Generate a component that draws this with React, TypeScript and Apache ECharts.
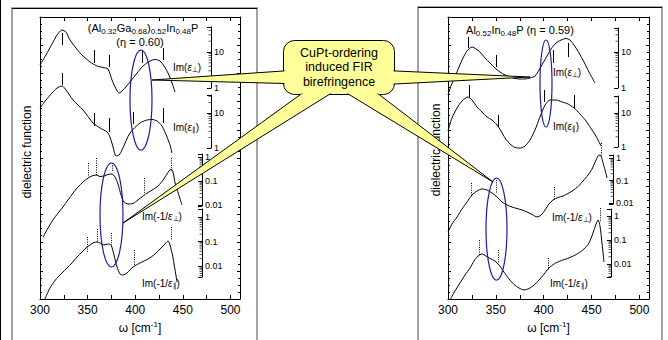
import React, { useEffect, useRef } from "react";
import * as echarts from "echarts";

const FONT = '"Liberation Sans", Arial, Helvetica, sans-serif';

// ---------------- data ----------------
const xTickLabels = [300, 350, 400, 450, 500];
const epsTickLabels = ["1", "10"];
const lossTickLabels = ["0.01", "0.1", "1"];

// Left panel: (Al0.32Ga0.68)0.52In0.48P, eta = 0.60   [omega (cm^-1), value]
const leftEpsPerp = [
  [300, 4.35], [306.3, 8.3], [312.6, 16.7], [317.9, 29.6], [323.1, 40.8], [327.3, 35.9], [331.5, 21.5],
  [342, 9.4], [352.5, 5.3], [359.9, 4.08], [366.2, 3.71], [371.4, 3.37], [375.6, 1.67], [380.9, 0.83],
  [383, 0.73], [387.2, 0.88], [394.5, 1.47], [401.9, 2.61], [408.2, 4.08], [415.5, 5.62], [420.8, 6.19],
  [426, 5.62], [430.2, 4.08], [434.4, 2.61], [438.6, 1.38], [441.8, 0.77],
];
const leftEpsPerpMarks = [[323.1, 33.7, 15.6], [356.7, 11.4, 4.95], [372.5, 8.25, 3.83], [407.1, 11.4, 4.95], [429.2, 12.9, 6.0]];

const leftEpsPar = [
  [300, 13.9], [306.3, 23.5], [312.6, 37.3], [317.9, 51.8], [323.1, 59.1], [327.3, 45.4], [334.7, 23.5],
  [345.2, 12.2], [355.7, 5.18], [363, 3.73], [370.4, 2.87], [373.5, 2.06], [376.7, 1.07], [379.8, 0.59],
  [383, 0.63], [386.1, 0.88], [394.5, 2.68], [405, 5.18], [412.4, 6.31], [417.6, 6.52], [422.9, 5.9],
  [428.1, 4.25], [433.4, 2.06], [436.5, 1.22], [438.6, 0.72],
];
const leftEpsParMarks = [[323.1, 139, 63.1], [356.7, 10, 4.25], [372.5, 7.2, 2.87], [397.7, 10.7, 4.85], [429.2, 13.9, 5.18]];

const leftLossPerp = [
  [303.2, 4.6e-4], [308.4, 1.1e-3], [313.7, 2.4e-3], [318.9, 4.6e-3], [324.2, 8.3e-3], [329.4, 0.0162],
  [334.7, 0.0316], [339.9, 0.0562], [345.2, 0.0908], [350.4, 0.133], [354.6, 0.162], [358.8, 0.178],
  [363, 0.154], [367.2, 0.162], [371.4, 0.187], [375.6, 0.196], [378.8, 0.147], [381.9, 0.075],
  [385.1, 0.0261], [388.2, 0.0133], [392.4, 0.011], [397.7, 0.0116], [402.9, 0.0162], [408.2, 0.0237],
  [413.4, 0.0332], [418.7, 0.0442], [423.9, 0.0619], [429.2, 0.11], [433.4, 0.196], [437.6, 0.316],
  [439.7, 0.237], [441.8, 0.083], [445.4, 0.029], [449.1, 0.01],
];
const leftLossPerpMarks = [[350.4, 0.562, 0.147], [358.8, 0.909, 0.178], [375.6, 0.562, 0.237], [409.2, 0.133, 0.0287], [437.6, 0.909, 0.237]];

const leftLossPar = [
  [305.2, 4.5e-4], [309.4, 1.05e-3], [313.7, 2.0e-3], [318.9, 3.56e-3], [323.1, 5.18e-3], [328.4, 8.3e-3],
  [333.6, 0.0133], [338.9, 0.0233], [344.1, 0.0373], [348.3, 0.0543], [352.5, 0.072], [356.7, 0.091],
  [359.9, 0.0955], [363, 0.0869], [367.2, 0.072], [371.4, 0.0791], [374.6, 0.072], [377.7, 0.0281],
  [380.9, 0.0091], [384, 4.7e-3], [387.2, 4.3e-3], [391.4, 5.2e-3], [397.7, 9.1e-3], [405, 0.0133],
  [413.4, 0.0193], [420.8, 0.0309], [426, 0.0494], [430.2, 0.072], [434.4, 0.105], [438.6, 0.034],
  [441.8, 6.9e-3], [443.9, 2.2e-3],
];
const leftLossParMarks = [[349.4, 0.153, 0.0373], [359.9, 0.324, 0.0955], [374.6, 0.222, 0.072], [398.7, 0.045, 0.011], [437.6, 0.391, 0.115]];

// Right panel: Al0.52In0.48P, eta = 0.59
const rightEpsPerp = [
  [300, 0.64], [303.1, 1.14], [307.3, 2.02], [311.5, 3.83], [315.7, 6.81], [319.9, 10.7], [325.1, 13.8],
  [329.3, 12.1], [333.4, 10], [338.7, 6.81], [343.9, 4.95], [349.1, 3.59], [354.3, 2.78], [359.6, 2.3],
  [364.8, 2.02], [370, 1.84], [375.2, 1.78], [380.5, 1.78], [385.7, 1.9], [390.9, 2.15], [395.1, 3.16],
  [399.3, 4.95], [403.5, 7.74], [407.6, 12.1], [412.9, 17.8], [418.1, 21.5], [423.3, 23.7], [427.5, 21.5],
  [431.7, 15.6], [436.9, 9.38], [442.1, 5.27], [447.3, 2.78], [453.6, 1.38],
];
const rightEpsPerpMarks = [[320.9, 26.1, 12.9], [350.2, 8.25, 3.83], [409.7, 11.4, 4.95], [425.4, 17.8, 7.26]];

const rightEpsPar = [
  [300, 2.96], [304.2, 7.13], [309.4, 14.0], [314.6, 22.5], [320.9, 29.6], [325.1, 24.1], [330.3, 15.0],
  [335.5, 10.7], [340.8, 7.62], [346, 6.22], [351.2, 4.44], [355.4, 2.96], [359.6, 1.84], [364.8, 1.22],
  [370, 0.97], [375.2, 0.93], [380.5, 1.07], [385.7, 1.61], [390.9, 3.16], [396.1, 7.62], [401.4, 17.2],
  [406.6, 24.1], [412.9, 24.1], [419.1, 21.1], [425.4, 18.4], [431.7, 14.0], [437.9, 9.35], [444.2, 5.82],
  [450.5, 3.16], [455.7, 1.84], [459.9, 1.07],
];
const rightEpsParMarks = [[321.9, 66.6, 29.6], [352.3, 8.73, 3.88], [400.3, 47.5, 21.1], [431.7, 33.8, 14.0]];

const rightLossPerp = [
  [300, 5.1e-4], [304.2, 1.17e-3], [309.4, 2.39e-3], [314.6, 5.4e-3], [319.9, 0.0111], [325.1, 0.0227],
  [330.3, 0.0341], [335.5, 0.0419], [340.8, 0.0378], [346, 0.0278], [351.2, 0.0185], [356.4, 0.0111],
  [361.7, 8.15e-3], [366.9, 6.6e-3], [372.1, 5.7e-3], [377.3, 4.9e-3], [382.6, 4.0e-3], [387.8, 3.1e-3],
  [393, 2.4e-3], [397.2, 2.9e-3], [401.4, 4.9e-3], [405.5, 9.0e-3], [409.7, 0.0136], [415, 0.0176],
  [420.2, 0.0205], [425.4, 0.0264], [430.6, 0.0359], [435.9, 0.0541], [441.1, 0.095], [446.3, 0.176],
  [450.5, 0.324], [454.7, 0.815], [457.8, 1.36], [459.9, 1.22], [462, 0.6], [464.1, 0.293], [466.2, 0.129],
];
const rightLossPerpMarks = [[324, 0.0774, 0.0185], [350.2, 0.105, 0.0278], [410.8, 0.0514, 0.0136], [459.9, 4.64, 1.11]];

const rightLossPar = [
  [302.1, 3.2e-4], [307.3, 7.5e-4], [312.5, 1.62e-3], [317.8, 3.5e-3], [323, 6.8e-3], [327.2, 0.0133],
  [331.4, 0.0215], [335.5, 0.0261], [339.7, 0.0215], [343.9, 0.017], [349.1, 0.0133], [353.3, 9.1e-3],
  [358.5, 4.6e-3], [363.7, 2.4e-3], [369, 1.4e-3], [374.2, 1.0e-3], [379.4, 8.3e-4], [384.6, 9.5e-4],
  [389.9, 1.33e-3], [395.1, 2.15e-3], [400.3, 3.8e-3], [405.5, 6.8e-3], [410.8, 0.01], [417, 0.0133],
  [423.3, 0.0162], [429.6, 0.0205], [435.9, 0.0274], [442.1, 0.0422], [447.3, 0.075], [451.5, 0.196],
  [454.7, 0.464], [456.8, 0.681], [458.8, 0.383], [460.9, 0.075], [463, 0.0121],
];
const rightLossParMarks = [[332.4, 0.1, 0.0237], [352.3, 0.0383, 0.011], [404.5, 0.0178, 5.6e-3], [458.8, 2.15, 0.562]];

// ---------------- layout ----------------
// cal: pixel y of value 1, pixels per decade, mini-axis x, mini-axis top/bottom
const PANELS = [
  {
    plot: { left: 40, top: 17, width: 200, height: 282 },
    curves: [
      { data: leftEpsPerp, marks: leftEpsPerpMarks, dotted: false, ticks: epsTickLabels, cal: { oneY: 88, dec: 36, x: 211, top: 27, bottom: 88 } },
      { data: leftEpsPar, marks: leftEpsParMarks, dotted: false, ticks: epsTickLabels, cal: { oneY: 148, dec: 35, x: 211, top: 95, bottom: 148 } },
      { data: leftLossPerp, marks: leftLossPerpMarks, dotted: true, ticks: lossTickLabels, cal: { oneY: 157, dec: 24, x: 202, top: 154, bottom: 206 } },
      { data: leftLossPar, marks: leftLossParMarks, dotted: true, ticks: lossTickLabels, cal: { oneY: 217, dec: 24.5, x: 202, top: 209, bottom: 277 } },
    ],
  },
  {
    plot: { left: 448, top: 17, width: 201, height: 282 },
    curves: [
      { data: rightEpsPerp, marks: rightEpsPerpMarks, dotted: false, ticks: epsTickLabels, cal: { oneY: 88, dec: 36, x: 618, top: 28, bottom: 88 } },
      { data: rightEpsPar, marks: rightEpsParMarks, dotted: false, ticks: epsTickLabels, cal: { oneY: 147, dec: 34, x: 618, top: 96, bottom: 147 } },
      { data: rightLossPerp, marks: rightLossPerpMarks, dotted: true, ticks: lossTickLabels, cal: { oneY: 158, dec: 22.5, x: 613, top: 155, bottom: 204 } },
      { data: rightLossPar, marks: rightLossParMarks, dotted: true, ticks: lossTickLabels, cal: { oneY: 216, dec: 24, x: 611, top: 209, bottom: 277 } },
    ],
  },
];

const BLACK = "#000";
const YELLOW = "#ffff99";
const BLUE = "#1c1ca6";

function decadeLabel(v: number) {
  const e = Math.log10(v);
  const r = Math.round(e);
  if (Math.abs(e - r) > 1e-6) return "";
  return String(Math.pow(10, r));
}

function minorValues(min: number, max: number) {
  const out: number[] = [];
  for (let d = Math.floor(Math.log10(min)); d <= Math.ceil(Math.log10(max)); d++) {
    for (let k = 2; k <= 9; k++) {
      const v = k * Math.pow(10, d);
      if (v >= min && v <= max) out.push(v);
    }
  }
  return out;
}

function imLabel(x: number, y: number, inner: string, sub: string) {
  return {
    type: "text", x, y, z: 8,
    style: {
      text: `Im(${inner}{e|ε}{s|${sub}})`,
      fontSize: 10, fontFamily: FONT, fill: BLACK, lineHeight: 12,
      align: "left", verticalAlign: "middle",
      rich: {
        e: { fontSize: 10, fontFamily: FONT, fontStyle: "italic", fill: BLACK, lineHeight: 12 },
        s: { fontSize: 6.5, fontFamily: FONT, fill: BLACK, verticalAlign: "bottom", lineHeight: 6 },
      },
    },
  };
}

function buildOption() {
  const grid: any[] = [];
  const xAxis: any[] = [];
  const yAxis: any[] = [];
  const series: any[] = [];
  const lineStyle = { color: BLACK, width: 1 };

  PANELS.forEach((panel) => {
    const p = panel.plot;
    const g = grid.length;
    grid.push({ left: p.left, top: p.top, width: p.width, height: p.height, show: false });
    const xi = xAxis.length;
    const xCommon = {
      gridIndex: g, type: "value", min: 300, max: 510, interval: 25,
      splitLine: { show: false },
      axisLine: { show: true, onZero: false, lineStyle },
      axisTick: { show: true, inside: true, length: 4, lineStyle },
    };
    xAxis.push({
      ...xCommon, position: "bottom",
      axisLabel: {
        show: true, fontSize: 12, color: BLACK, fontFamily: FONT, margin: 5,
        formatter: (v: number) => (xTickLabels.includes(v) ? String(v) : ""),
      },
      name: "ω [cm{sup|-1}]", nameLocation: "middle", nameGap: 21,
      nameTextStyle: {
        fontSize: 12, color: BLACK, fontFamily: FONT, lineHeight: 14,
        rich: { sup: { fontSize: 8, color: BLACK, fontFamily: FONT, verticalAlign: "top", lineHeight: 8 } },
      },
    });
    xAxis.push({ ...xCommon, position: "top", axisLabel: { show: false } });
    const yCommon = {
      gridIndex: g, type: "value", min: 0, max: 1, interval: 0.1,
      splitLine: { show: false }, minorSplitLine: { show: false },
      axisLine: { show: true, onZero: false, lineStyle },
      axisTick: { show: true, inside: true, length: 3, lineStyle },
      minorTick: { show: true, splitNumber: 4, length: 2, lineStyle },
      axisLabel: { show: false },
    };
    yAxis.push({ ...yCommon, position: "left" });
    yAxis.push({ ...yCommon, position: "right" });

    panel.curves.forEach((c) => {
      const yi = yAxis.length;
      const bottom = p.top + p.height;
      yAxis.push({
        gridIndex: g, type: "log", logBase: 10, show: false,
        min: Math.pow(10, (c.cal.oneY - bottom) / c.cal.dec),
        max: Math.pow(10, (c.cal.oneY - p.top) / c.cal.dec),
      });
      series.push({
        type: "line", xAxisIndex: xi, yAxisIndex: yi, data: c.data,
        symbol: "none", showSymbol: false, smooth: 0.25, silent: true, z: 3,
        lineStyle: { color: BLACK, width: 1 },
        markLine: {
          silent: true, symbol: ["none", "none"], label: { show: false },
          emphasis: { disabled: true },
          lineStyle: { color: BLACK, width: 1, type: c.dotted ? [1, 1.3] : "solid" },
          data: c.marks.map(([w, a, b]) => [{ coord: [w, a] }, { coord: [w, b] }]),
        },
      });
    });
  });

  // small logarithmic scales on the right of each curve
  PANELS.forEach((panel) =>
    panel.curves.forEach((c) => {
      const cal = c.cal;
      const g = grid.length;
      grid.push({ left: cal.x - 1, top: cal.top, width: 1, height: cal.bottom - cal.top, show: false });
      const xi = xAxis.length;
      xAxis.push({ gridIndex: g, type: "value", min: 0, max: 1, show: false });
      const yi = yAxis.length;
      const min = Math.pow(10, (cal.oneY - cal.bottom) / cal.dec);
      const max = Math.pow(10, (cal.oneY - cal.top) / cal.dec);
      yAxis.push({
        gridIndex: g, type: "log", logBase: 10, min, max, position: "right",
        axisLine: { show: true, onZero: false, lineStyle },
        axisTick: { show: true, inside: true, length: 4, lineStyle },
        splitLine: { show: false },
        axisLabel: {
          show: true, margin: 3, fontSize: 9, color: BLACK, fontFamily: FONT,
          formatter: (v: number) => {
            const s = decadeLabel(v);
            return c.ticks.includes(s) ? s : "";
          },
        },
      });
      series.push({
        type: "scatter", xAxisIndex: xi, yAxisIndex: yi, silent: true, clip: false,
        data: minorValues(min, max).map((v) => [1, v]),
        symbol: "rect", symbolSize: [2.5, 0.8], symbolOffset: [-1.25, 0],
        itemStyle: { color: BLACK },
      });
    })
  );

  const titleRich = {
    s: { fontSize: 8, fontFamily: FONT, fill: BLACK, verticalAlign: "bottom", lineHeight: 8 },
  };

  const graphic: any[] = [
    { type: "line", z: 1, shape: { x1: 0.5, y1: 0, x2: 0.5, y2: 340 }, style: { stroke: BLACK, lineWidth: 1 } },
    { type: "rect", z: 1, shape: { x: 12, y: 8, width: 245, height: 340 }, style: { fill: "none", stroke: "#8c8c8c", lineWidth: 1.6 } },
    { type: "line", z: 1, shape: { x1: 12, y1: 8.5, x2: 257, y2: 8.5 }, style: { stroke: BLACK, lineWidth: 1 } },
    { type: "rect", z: 1, shape: { x: 418, y: 7, width: 244, height: 340 }, style: { fill: "none", stroke: "#8c8c8c", lineWidth: 1.6 } },
    { type: "line", z: 1, shape: { x1: 418, y1: 7.5, x2: 662, y2: 7.5 }, style: { stroke: BLACK, lineWidth: 1 } },

    {
      type: "text", x: 143, y: 28, z: 8,
      style: {
        text: "(Al{s|0.32}Ga{s|0.68}){s|0.52}In{s|0.48}P", fontSize: 11, fontFamily: FONT, fill: BLACK,
        lineHeight: 14, align: "center", verticalAlign: "middle", rich: titleRich,
      },
    },
    { type: "text", x: 140, y: 42, z: 8, style: { text: "(η = 0.60)", fontSize: 11, fontFamily: FONT, fill: BLACK, align: "center", verticalAlign: "middle" } },
    {
      type: "text", x: 520, y: 30, z: 8,
      style: {
        text: "Al{s|0.52}In{s|0.48}P (η = 0.59)", fontSize: 11, fontFamily: FONT, fill: BLACK,
        lineHeight: 14, align: "center", verticalAlign: "middle", rich: titleRich,
      },
    },
    { type: "text", x: 27, y: 152, rotation: Math.PI / 2, z: 8, style: { text: "dielectric function", fontSize: 12, fontFamily: FONT, fill: BLACK, align: "center", verticalAlign: "middle" } },
    { type: "text", x: 436, y: 150, rotation: Math.PI / 2, z: 8, style: { text: "dielectric function", fontSize: 12, fontFamily: FONT, fill: BLACK, align: "center", verticalAlign: "middle" } },

    imLabel(173, 67, "", "⊥"),
    imLabel(173, 127, "", "∥"),
    imLabel(142, 216, "-1/", "⊥"),
    imLabel(142, 283, "-1/", "∥"),
    imLabel(553, 72, "", "⊥"),
    imLabel(553, 126, "", "∥"),
    imLabel(552, 217, "-1/", "⊥"),
    imLabel(550, 283, "-1/", "∥"),

    { type: "ellipse", z: 10, shape: { cx: 141, cy: 100, rx: 11, ry: 50 }, style: { fill: "none", stroke: BLUE, lineWidth: 1.2 } },
    { type: "ellipse", z: 10, shape: { cx: 111.5, cy: 215, rx: 11.5, ry: 52 }, style: { fill: "none", stroke: BLUE, lineWidth: 1.2 } },
    { type: "ellipse", z: 10, shape: { cx: 546, cy: 83.5, rx: 6, ry: 43.5 }, style: { fill: "none", stroke: BLUE, lineWidth: 1.2 } },
    { type: "ellipse", z: 10, shape: { cx: 496.5, cy: 229, rx: 10.5, ry: 51 }, style: { fill: "none", stroke: BLUE, lineWidth: 1.2 } },

    { type: "rect", z: 20, shape: { x: 283.5, y: 40.5, width: 111, height: 54, r: 11 }, style: { fill: YELLOW, stroke: BLACK, lineWidth: 1 } },
    { type: "polygon", z: 21, shape: { points: [[152, 80], [289, 70.6], [289, 83.6]] }, style: { fill: YELLOW, stroke: BLACK, lineWidth: 1 } },
    { type: "polygon", z: 21, shape: { points: [[123, 223], [308, 89], [338, 89]] }, style: { fill: YELLOW, stroke: BLACK, lineWidth: 1 } },
    { type: "polygon", z: 21, shape: { points: [[530, 77], [389, 70.7], [389, 84.3]] }, style: { fill: YELLOW, stroke: BLACK, lineWidth: 1 } },
    { type: "polygon", z: 21, shape: { points: [[493, 182], [340, 89], [372, 89]] }, style: { fill: YELLOW, stroke: BLACK, lineWidth: 1 } },
    { type: "rect", z: 22, shape: { x: 284.5, y: 41.5, width: 109, height: 52, r: 10 }, style: { fill: YELLOW } },
    {
      type: "text", x: 339, y: 67, z: 23,
      style: {
        text: "CuPt-ordering\ninduced FIR\nbirefringence", fontSize: 12.5, lineHeight: 14.5,
        fontFamily: FONT, fill: BLACK, align: "center", verticalAlign: "middle",
      },
    },
  ];

  return {
    animation: false,
    backgroundColor: "#fff",
    grid, xAxis, yAxis, series, graphic,
  };
}

export default function App() {
  const ref = useRef<HTMLDivElement>(null);
  useEffect(() => {
    if (!ref.current) return;
    const chart = echarts.init(ref.current, null, { renderer: "svg" });
    chart.setOption(buildOption() as any);
    return () => chart.dispose();
  }, []);
  return (
    <div
      ref={ref}
      style={{ position: "fixed", left: 0, top: 0, width: 668, height: 340, background: "#fff" }}
    />
  );
}
